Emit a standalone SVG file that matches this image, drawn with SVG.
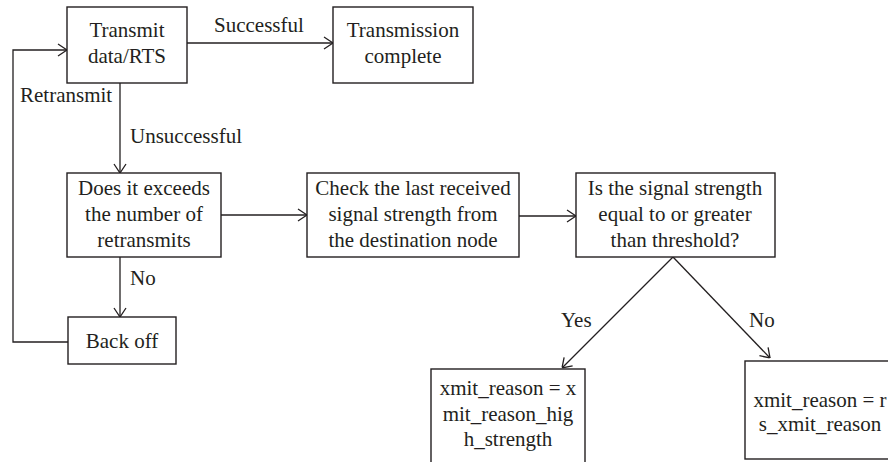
<svg xmlns="http://www.w3.org/2000/svg" width="888" height="462" viewBox="0 0 888 462">
<style>
.box{fill:#fff;stroke:#231f20;stroke-width:1.4}
.t{font-family:"Liberation Serif","DejaVu Serif",serif;font-size:21px;fill:#231f20;text-anchor:middle}
.l{font-family:"Liberation Serif","DejaVu Serif",serif;font-size:21px;fill:#231f20}
.c{fill:none;stroke:#231f20;stroke-width:1.3}
</style>
<defs>
<marker id="ah" viewBox="0 0 10 14" refX="10" refY="7" markerWidth="10" markerHeight="14" markerUnits="userSpaceOnUse" orient="auto">
<path d="M1,1 L10,7 L1,13" fill="none" stroke="#231f20" stroke-width="1.3"/>
</marker>
</defs>
<rect width="888" height="462" fill="#fff"/>
<g id="connectors">
<line class="c" x1="187" y1="43" x2="333" y2="43" marker-end="url(#ah)"/>
<line class="c" x1="120" y1="83" x2="120" y2="173" marker-end="url(#ah)"/>
<line class="c" x1="221" y1="215" x2="307" y2="215" marker-end="url(#ah)"/>
<line class="c" x1="519" y1="216" x2="576" y2="216" marker-end="url(#ah)"/>
<line class="c" x1="120" y1="257" x2="120" y2="317" marker-end="url(#ah)"/>
<polyline class="c" points="68,342 13,342 13,50 67,50" marker-end="url(#ah)"/>
<line class="c" x1="673" y1="257" x2="562" y2="368" marker-end="url(#ah)"/>
<line class="c" x1="673" y1="257" x2="770" y2="358" marker-end="url(#ah)"/>
<text class="l" x="214" y="32">Successful</text>
<text class="l" x="20" y="102">Retransmit</text>
<text class="l" x="130" y="143">Unsuccessful</text>
<text class="l" x="130" y="285">No</text>
<text class="l" x="561" y="327">Yes</text>
<text class="l" x="749" y="327">No</text>
</g>
<g id="transmit">
<rect class="box" x="67" y="7" width="120" height="76"/>
<text class="t" x="127" y="37">Transmit</text>
<text class="t" x="127" y="63">data/RTS</text>
</g>
<g id="complete">
<rect class="box" x="333" y="7" width="140" height="76"/>
<text class="t" x="403" y="37">Transmission</text>
<text class="t" x="403" y="63">complete</text>
</g>
<g id="exceeds">
<rect class="box" x="67" y="173" width="154" height="84"/>
<text class="t" x="144" y="195">Does it exceeds</text>
<text class="t" x="144" y="221">the number of</text>
<text class="t" x="144" y="247">retransmits</text>
</g>
<g id="check">
<rect class="box" x="307" y="173" width="212" height="84"/>
<text class="t" x="413" y="195">Check the last received</text>
<text class="t" x="413" y="221">signal strength from</text>
<text class="t" x="413" y="247">the destination node</text>
</g>
<g id="threshold">
<rect class="box" x="576" y="173" width="199" height="84"/>
<text class="t" x="675" y="195">Is the signal strength</text>
<text class="t" x="675" y="221">equal to or greater</text>
<text class="t" x="675" y="247">than threshold?</text>
</g>
<g id="backoff">
<rect class="box" x="68" y="317" width="108" height="47"/>
<text class="t" x="122" y="348">Back off</text>
</g>
<g id="yes-box">
<rect class="box" x="431" y="369" width="154" height="100"/>
<text class="t" x="508" y="395">xmit_reason = x</text>
<text class="t" x="508" y="421">mit_reason_hig</text>
<text class="t" x="508" y="446">h_strength</text>
</g>
<g id="no-box">
<rect class="box" x="745" y="361" width="152" height="98"/>
<text class="t" x="820" y="407">xmit_reason = r</text>
<text class="t" x="820" y="431">s_xmit_reason</text>
</g>
</svg>
